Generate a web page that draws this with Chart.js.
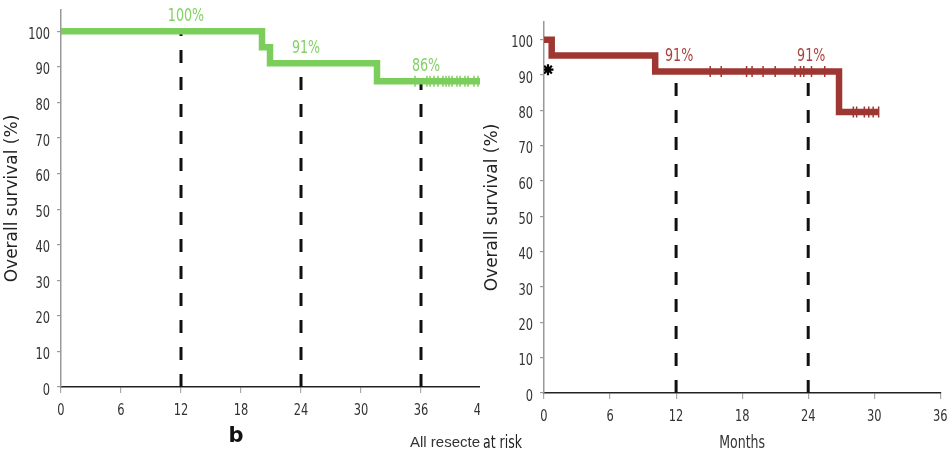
<!DOCTYPE html>
<html>
<head>
<meta charset="utf-8">
<script src="https://cdn.jsdelivr.net/npm/chart.js@4.4.0/dist/chart.umd.min.js"></script>
<style>
  body { margin: 0; background: #fff; }
  .panel { position: absolute; top: 0; height: 454px; overflow: hidden; }
  #leftPanel { left: 0; width: 480px; }
  #rightPanel { left: 480px; width: 468px; }
  #leftWrap { width: 500px; height: 454px; position: relative; }
  #rightWrap { width: 468px; height: 454px; position: relative; }
</style>
</head>
<body>
<div class="panel" id="leftPanel"><div id="leftWrap"><canvas id="left_chart"></canvas></div></div>
<div class="panel" id="rightPanel"><div id="rightWrap"><canvas id="right_chart"></canvas></div></div>
<script>
// left panel: all resected
const leftTimes = [0, 20.1, 20.9, 31.6, 41.9];
const leftSurv = [100, 95.5, 91, 86, 86];
const leftCensor = [35.4, 36.6, 36.9, 37.3, 37.7, 38.2, 38.5, 38.8, 39.1, 39.6, 39.9, 40.4, 40.7, 41.3, 41.7];
const leftMarks = [12, 24, 36];
const leftMarkLabels = ['100%', '91%', '86%'];
const leftXTicks = [0, 6, 12, 18, 24, 30, 36, 42];

// right panel
const rightTimes = [0, 0.7, 10.1, 26.8, 30.4];
const rightSurv = [100, 95.5, 91, 79.5, 79.5];
const rightCensor = [15.1, 16.1, 18.4, 18.9, 19.9, 21.0, 22.8, 23.3, 23.6, 24.3, 25.5, 28.1, 28.4, 29.1, 29.5, 29.9, 30.4];
const rightMarks = [12, 24];
const rightMarkLabels = ['91%', '91%'];
const rightXTicks = [0, 6, 12, 18, 24, 30, 36];
const rightStar = [{x: 0.36, y: 91.5}];

const yTicks = [0, 10, 20, 30, 40, 50, 60, 70, 80, 90, 100];

const cond = '"DejaVu Sans Condensed", "DejaVu Sans", sans-serif';

function survAt(times, surv, t) {
    var s = surv[0];
    for (var i = 0; i < times.length; i++) {
        if (times[i] <= t) s = surv[i];
    }
    return s;
}

// squeezed text, the original uses a narrow face
function narrowText(c, text, x, y, align, sx) {
    c.save();
    c.translate(x, y);
    c.scale(sx, 1);
    c.textAlign = align;
    c.fillText(text, 0, 0);
    c.restore();
}

function makeChart(id, cfg) {
    var curve = cfg.times.map(function(t, i) { return {x: t, y: cfg.surv[i]}; });
    var censor = cfg.censor.map(function(t) { return {x: t, y: survAt(cfg.times, cfg.surv, t)}; });
    var datasets = [{
        data: curve,
        borderColor: cfg.color,
        borderWidth: 6.5,
        stepped: true,
        pointRadius: 0,
        fill: false
    }, {
        data: censor,
        showLine: false,
        pointStyle: 'line',
        rotation: 90,
        pointRadius: 5.5,
        borderWidth: 1.5,
        borderColor: cfg.color
    }];
    cfg.marks.forEach(function(m) {
        datasets.push({
            data: [{x: m, y: 0}, {x: m, y: survAt(cfg.times, cfg.surv, m)}],
            borderColor: '#111',
            borderWidth: 3,
            borderDash: [13, 14],
            pointRadius: 0
        });
    });
    if (cfg.star) {
        datasets.push({
            data: cfg.star,
            showLine: false,
            pointStyle: 'star',
            pointRadius: 5.5,
            borderWidth: 2.2,
            borderColor: '#000'
        });
    }

    var labelPlugin = {
        id: 'marks',
        afterDatasetsDraw: function(chart) {
            var c = chart.ctx, xs = chart.scales.x, ys = chart.scales.y;
            c.save();
            c.textBaseline = 'alphabetic';
            // tick labels
            c.fillStyle = '#333';
            c.font = '16.5px ' + cond;
            xs.ticks.forEach(function(t) {
                narrowText(c, String(t.value), xs.getPixelForValue(t.value), ys.bottom + 28, 'center', 0.77);
            });
            ys.ticks.forEach(function(t) {
                narrowText(c, String(t.value), xs.left - 11, ys.getPixelForValue(t.value) + 7.5, 'right', 0.77);
            });
            if (cfg.xTitle) {
                c.font = '17px ' + cond;
                narrowText(c, cfg.xTitle, (xs.left + xs.right) / 2, 448, 'center', 0.82);
            }
            // landmark percentages
            c.font = '17px ' + cond;
            c.fillStyle = cfg.labelColor;
            cfg.marks.forEach(function(m, i) {
                var s = survAt(cfg.times, cfg.surv, m);
                narrowText(c, cfg.markLabels[i], xs.getPixelForValue(m) + cfg.labelShift, ys.getPixelForValue(s) - 10, 'center', 0.83);
            });
            if (cfg.extra) cfg.extra(c);
            c.restore();
        }
    };

    return new Chart(document.getElementById(id).getContext('2d'), {
        type: 'line',
        data: { datasets: datasets },
        plugins: [labelPlugin],
        options: {
            responsive: true,
            maintainAspectRatio: false,
            animation: false,
            layout: { padding: cfg.padding },
            plugins: { legend: { display: false }, tooltip: { enabled: false } },
            scales: {
                x: {
                    type: 'linear',
                    min: 0,
                    max: cfg.xMax,
                    afterBuildTicks: function(scale) { scale.ticks = cfg.xTicks.map(function(v) { return {value: v}; }); },
                    afterFit: function(scale) { scale.height = cfg.xHeight; scale.paddingLeft = 0; scale.paddingRight = 0; },
                    grid: { drawOnChartArea: false, tickLength: 6, color: '#aaa', lineWidth: 1.2 },
                    border: { color: '#222', width: 1.5 },
                    ticks: { display: false }
                },
                y: {
                    min: 0,
                    max: cfg.yMax,
                    afterBuildTicks: function(scale) { scale.ticks = yTicks.map(function(v) { return {value: v}; }); },
                    afterFit: function(scale) { scale.width = cfg.yWidth; scale.paddingTop = 0; scale.paddingBottom = 0; },
                    grid: { drawOnChartArea: false, tickLength: 4, color: '#999', lineWidth: 1.2 },
                    border: { color: '#999', width: 1.5 },
                    ticks: { display: false },
                    title: {
                        display: true,
                        text: 'Overall survival (%)',
                        color: '#222',
                        font: { family: '"DejaVu Sans", sans-serif', size: 17 },
                        padding: { top: 2, bottom: 0 }
                    }
                }
            }
        }
    });
}

makeChart('left_chart', {
    times: leftTimes, surv: leftSurv, censor: leftCensor,
    marks: leftMarks, markLabels: leftMarkLabels, xTicks: leftXTicks,
    color: 'rgb(124, 206, 92)', labelColor: 'rgb(128, 210, 100)', labelShift: 5,
    xMax: 42, yMax: 106, yWidth: 61, xHeight: 67,
    padding: { left: 0, right: 19, top: 10, bottom: 0 },
    extra: function(c) {
        c.fillStyle = '#111';
        c.textAlign = 'center';
        c.font = 'bold 21px "DejaVu Sans", sans-serif';
        c.fillText('b', 236, 442);
        c.fillStyle = '#333';
        c.textAlign = 'left';
        c.font = '15px "Liberation Sans", sans-serif';
        c.fillText('All resected patients', 410, 447);
    }
});

makeChart('right_chart', {
    times: rightTimes, surv: rightSurv, censor: rightCensor,
    marks: rightMarks, markLabels: rightMarkLabels, xTicks: rightXTicks,
    star: rightStar,
    color: 'rgb(158, 54, 50)', labelColor: 'rgb(168, 66, 62)', labelShift: 3,
    xMax: 36, yMax: 105, yWidth: 64, xHeight: 61, xTitle: 'Months',
    padding: { left: 0, right: 6, top: 22, bottom: 0 },
    extra: function(c) {
        c.fillStyle = '#222';
        c.font = '17px ' + cond;
        narrowText(c, 'Number at risk', 42, 448, 'right', 0.82);
    }
});
</script>
</body>
</html>
